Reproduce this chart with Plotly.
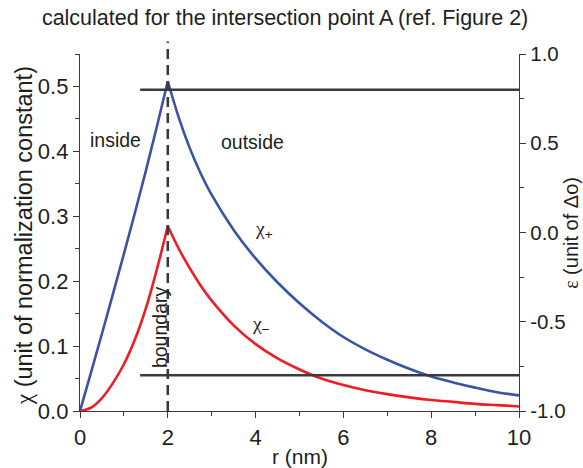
import plotly.graph_objects as go

# ---- data ----
r_inside = [0.0, 0.25, 0.5, 0.75, 1.0, 1.25, 1.5, 1.75, 2.0]
chi_plus_inside = [0.0, 0.059, 0.119, 0.180, 0.242, 0.305, 0.370, 0.438, 0.508]
chi_minus_inside = [0.0, 0.005, 0.02, 0.043, 0.072, 0.11, 0.158, 0.218, 0.285]

r_outside = [2.0, 2.25, 2.5, 2.75, 3.0, 3.5, 4.0, 4.5, 5.0, 5.5, 6.0, 6.5, 7.0, 7.5, 8.0, 8.5, 9.0, 9.5, 10.0]
chi_plus_outside = [0.508, 0.452, 0.405, 0.366, 0.333, 0.279, 0.235, 0.198, 0.166, 0.138, 0.114, 0.095,
                    0.079, 0.065, 0.053, 0.044, 0.036, 0.029, 0.024]
chi_minus_outside = [0.285, 0.25, 0.22, 0.193, 0.17, 0.132, 0.103, 0.081, 0.064, 0.05, 0.04, 0.032,
                     0.026, 0.021, 0.017, 0.014, 0.011, 0.009, 0.007]

eps_levels = [0.8, -0.8]
eps_line_r = [1.37, 10.0]
boundary_r = 2.0

r_range = [0, 10]
chi_range = [0, 0.55]
eps_range = [-1.0, 1.0]

chi_tickvals = [0.0, 0.1, 0.2, 0.3, 0.4, 0.5]
chi_ticktext = ["0.0", "0.1", "0.2", "0.3", "0.4", "0.5"]
chi_minor = [0.05, 0.15, 0.25, 0.35, 0.45, 0.55]
eps_tickvals = [-1.0, -0.5, 0.0, 0.5, 1.0]
eps_ticktext = ["-1.0", "-0.5", "0.0", "0.5", "1.0"]
eps_minor = [-0.75, -0.25, 0.25, 0.75]
r_tickvals = [0, 2, 4, 6, 8, 10]

BLUE = "#3a53a4"
RED = "#ee1c24"
DARK = "#3a3a3a"
TXT = "#1e1e1e"
FONT = "Liberation Sans, Arial, sans-serif"
GREEK = "<span style='font-family:Liberation Serif'>{}</span>"

fig = go.Figure()
for xs, ys, c in [(r_inside, chi_plus_inside, BLUE), (r_outside, chi_plus_outside, BLUE),
                  (r_inside, chi_minus_inside, RED), (r_outside, chi_minus_outside, RED)]:
    fig.add_trace(go.Scatter(x=xs, y=ys, mode="lines",
                             line=dict(color=c, width=2.6, shape="spline", smoothing=1.0),
                             showlegend=False, hoverinfo="skip"))
for lvl in eps_levels:
    fig.add_trace(go.Scatter(x=eps_line_r, y=[lvl, lvl], yaxis="y2", mode="lines",
                             line=dict(color=DARK, width=2.6), showlegend=False, hoverinfo="skip"))

# boundary dashed line (domain coordinates derived from the axis range)
bx = (boundary_r - r_range[0]) / (r_range[1] - r_range[0])
fig.add_shape(type="line", xref="x domain", yref="y domain", x0=bx, x1=bx, y0=0, y1=1.035,
              line=dict(color=DARK, width=2.6, dash="10px,6px"))

minor_common = dict(ticks="outside", ticklen=3.5, tickcolor=DARK, tickwidth=1.3)
axis_common = dict(showline=True, linecolor=DARK, linewidth=1.3, ticks="outside", ticklen=6,
                   tickwidth=1.3, tickcolor=DARK, showgrid=False, zeroline=False, automargin=False)

fig.update_layout(
    width=583, height=468,
    margin=dict(l=80, r=64, t=54, b=57),
    paper_bgcolor="white", plot_bgcolor="white",
    font=dict(family=FONT, color=TXT),
    title=dict(text="calculated for the intersection point A (ref. Figure 2)", xref="container", yref="container",
               x=0.489, y=0.962, xanchor="center", yanchor="middle", font=dict(family=FONT, size=21.5, color=TXT)),
    xaxis=dict(range=r_range, tickvals=r_tickvals, minor=dict(dtick=1, **minor_common),
               tickfont=dict(family=FONT, size=22, color=TXT), **axis_common),
    yaxis=dict(range=chi_range, tickvals=chi_tickvals, ticktext=chi_ticktext,
               minor=dict(tickvals=chi_minor, **minor_common),
               tickfont=dict(family=FONT, size=22, color=TXT), **axis_common),
    yaxis2=dict(range=eps_range, overlaying="y", side="right", tickvals=eps_tickvals, ticktext=eps_ticktext,
                minor=dict(tickvals=eps_minor, **minor_common),
                tickfont=dict(family=FONT, size=20.5, color=TXT), **axis_common),
)

# axis titles as paper-positioned annotations
fig.add_annotation(text="r (nm)", xref="paper", yref="paper", x=0.5, y=-0.128, xanchor="center", yanchor="middle",
                   showarrow=False, font=dict(family=FONT, size=21, color=TXT))
fig.add_annotation(text=GREEK.format("χ") + " (unit of normalization constant)", xref="paper", yref="paper",
                   x=-0.127, y=0.49, xanchor="center", yanchor="middle", textangle=-90, showarrow=False,
                   font=dict(family=FONT, size=23.5, color=TXT))
fig.add_annotation(text=GREEK.format("ε") + " (unit of Δo)", xref="paper", yref="paper", x=1.117, y=0.5,
                   xanchor="center", yanchor="middle", textangle=-90, showarrow=False,
                   font=dict(family=FONT, size=20, color=TXT))

ann_font = dict(family=FONT, size=19.5, color=TXT)
for txt, x, y, ang in [("inside", 0.81, 0.418, 0), ("outside", 3.94, 0.415, 0),
                       (GREEK.format("χ") + "<sub>+</sub>", 4.19, 0.279, 0),
                       (GREEK.format("χ") + "<sub>−</sub>", 4.12, 0.133, 0),
                       ("boundary", 1.81, 0.130, -90)]:
    fig.add_annotation(text=txt, x=x, y=y, xref="x", yref="y", showarrow=False, textangle=ang, font=ann_font)

fig.write_html("out.html", config={"displayModeBar": False},
               post_script="document.body.style.margin='0';")
